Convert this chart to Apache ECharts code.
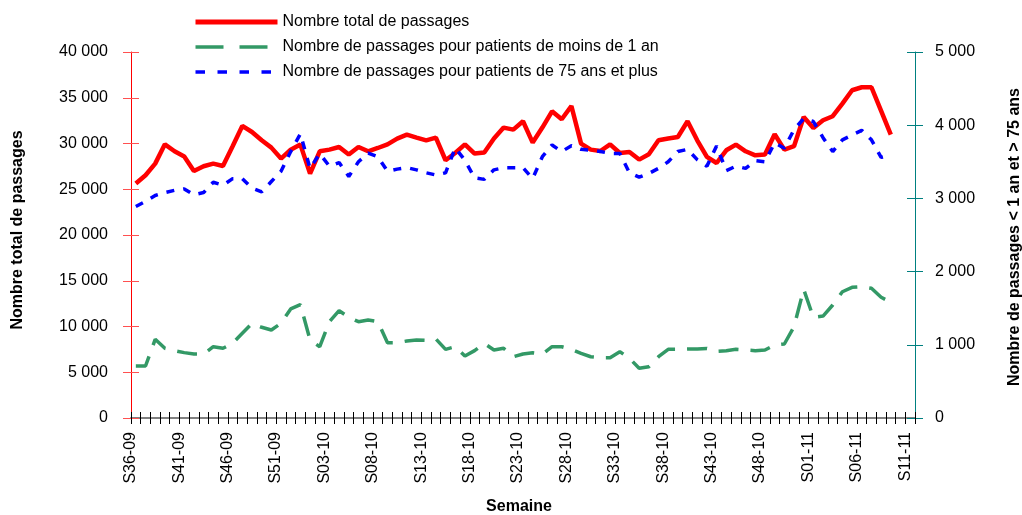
<!DOCTYPE html>
<html>
<head>
<meta charset="utf-8">
<script src="https://cdn.jsdelivr.net/npm/echarts@6/dist/echarts.min.js"></script>
<style>html,body{margin:0;padding:0;background:#fff;overflow:hidden}#c{width:1022px;height:515px}</style>
</head>
<body>
<div id="c"></div>
<script>
const categories = ['S36-09','S37-09','S38-09','S39-09','S40-09','S41-09','S42-09','S43-09','S44-09','S45-09',
'S46-09','S47-09','S48-09','S49-09','S50-09','S51-09','S52-09','S53-09',
'S01-10','S02-10','S03-10','S04-10','S05-10','S06-10','S07-10','S08-10','S09-10','S10-10',
'S11-10','S12-10','S13-10','S14-10','S15-10','S16-10','S17-10','S18-10','S19-10','S20-10',
'S21-10','S22-10','S23-10','S24-10','S25-10','S26-10','S27-10','S28-10','S29-10','S30-10',
'S31-10','S32-10','S33-10','S34-10','S35-10','S36-10','S37-10','S38-10','S39-10','S40-10',
'S41-10','S42-10','S43-10','S44-10','S45-10','S46-10','S47-10','S48-10','S49-10','S50-10',
'S51-10','S52-10','S01-11','S02-11','S03-11','S04-11','S05-11','S06-11','S07-11','S08-11',
'S09-11','S10-11','S11-11'];

const seriesNames = ['Nombre total de passages',
  'Nombre de passages pour patients de moins de 1 an',
  'Nombre de passages pour patients de 75 ans et plus'];

const totalPassages = [25620,26530,27800,29910,29150,28590,27000,27510,27800,27540,
29700,31920,31260,30350,29550,28350,29330,29880,26710,29150,
29330,29620,28790,29620,29150,29510,29910,30540,30970,30650,
30350,30650,28170,28960,29910,28900,29010,30540,31740,31520,
32430,30100,31740,33520,32650,34100,29990,29330,29180,29910,
28960,29070,28240,28820,30350,30540,30710,32430,30350,28530,
27870,29260,29880,29150,28710,28790,31010,29330,29700,32900,
31700,32540,32980,34360,35820,36150,36150,33560,30970,null,null];

const moinsUnAn = [710,710,1075,952,920,893,874,874,974,952,
1020,1157,1294,1239,1202,1294,1490,1550,1065,974,
1316,1466,1375,1316,1339,1316,1029,1029,1052,1065,
1060,1080,938,974,847,920,1020,929,952,837,
874,892,874,974,974,938,883,837,824,824,
906,815,679,701,837,938,938,943,943,950,
911,920,938,929,920,929,997,1011,1248,1758,
1375,1393,1544,1725,1785,1794,1772,1650,1580,null,null];

const plus75 = [2890,2960,3040,3080,3110,3130,3050,3080,3220,3180,
3270,3270,3140,3090,3230,3370,3640,3880,3410,3610,
3440,3490,3300,3500,3620,3570,3370,3400,3420,3390,
3350,3320,3350,3690,3520,3280,3260,3390,3420,3420,
3420,3270,3570,3730,3640,3720,3670,3660,3640,3615,
3615,3350,3290,3340,3410,3500,3640,3670,3530,3440,
3716,3380,3440,3410,3515,3500,3760,3684,3940,4090,
4050,3830,3640,3800,3866,3930,3800,3560,3590,null,null];

const leftAxisTitle = 'Nombre total de passages';
const rightAxisTitle = 'Nombre de passages < 1 an et > 75 ans';
const xAxisTitle = 'Semaine';

const FONT = "'Liberation Sans', Arial, sans-serif";
const TITLE_FONT = "bold 16px 'Liberation Sans', Arial, sans-serif";
const fmt = v => String(Math.round(v)).replace(/\B(?=(\d{3})+(?!\d))/g, ' ');

const chart = echarts.init(document.getElementById('c'), null, {renderer: 'canvas'});
chart.setOption({
  animation: false,
  backgroundColor: '#fff',
  textStyle: {fontFamily: FONT},
  grid: {left: 131, right: 107, top: 52, bottom: 97, containLabel: false, outerBoundsMode: 'none'},
  graphic: [
    {type: 'text', x: 18, y: 230, rotation: Math.PI / 2,
     style: {text: leftAxisTitle, font: TITLE_FONT, fill: '#000', align: 'center', verticalAlign: 'middle'}},
    {type: 'text', x: 1015, y: 237, rotation: Math.PI / 2,
     style: {text: rightAxisTitle, font: TITLE_FONT, fill: '#000', align: 'center', verticalAlign: 'middle'}},
    {type: 'text', x: 519, y: 507,
     style: {text: xAxisTitle, font: TITLE_FONT, fill: '#000', align: 'center', verticalAlign: 'middle'}}
  ],
  legend: {
    orient: 'vertical', left: 193, top: 14, padding: 0,
    itemWidth: 82, itemHeight: 14, itemGap: 9,
    itemStyle: {color: 'rgba(0,0,0,0)', borderWidth: 0, opacity: 0},
    textStyle: {fontSize: 16, color: '#000', fontFamily: FONT, lineHeight: 16},
    data: [
      {name: seriesNames[0], lineStyle: {width: 5, type: 'solid', color: '#ff0000'}},
      {name: seriesNames[1], lineStyle: {width: 3.5, type: [28, 16], color: '#339966'}},
      {name: seriesNames[2], lineStyle: {width: 3.5, type: [9.5, 12.5], color: '#0000ff'}}
    ]
  },
  xAxis: [{
    type: 'category', data: categories, boundaryGap: true, position: 'bottom',
    axisLine: {show: true, lineStyle: {color: '#808080', width: 2}},
    axisTick: {show: true, interval: 0, length: 6, lineStyle: {color: '#000', width: 1}},
    axisLabel: {interval: 4, rotate: 90, fontSize: 16, color: '#000', margin: 14, fontFamily: FONT,
      verticalAlign: 'bottom', lineHeight: 10},
    splitLine: {show: false}
  }, {
    type: 'category', data: categories, boundaryGap: true, position: 'bottom',
    axisLine: {show: false},
    axisTick: {show: true, inside: true, interval: 0, length: 6, lineStyle: {color: '#000', width: 1}},
    axisLabel: {show: false}, splitLine: {show: false}
  }],
  yAxis: [{
    type: 'value', position: 'left', min: 0, max: 40000, interval: 5000,
    axisLine: {show: true, lineStyle: {color: '#ff0000', width: 1}},
    axisTick: {show: true, length: 8, lineStyle: {color: '#ff5050', width: 1}},
    axisLabel: {formatter: fmt, fontSize: 16, color: '#000', margin: 23, fontFamily: FONT},
    splitLine: {show: false}
  }, {
    type: 'value', position: 'right', min: 0, max: 5000, interval: 1000,
    axisLine: {show: true, lineStyle: {color: '#008080', width: 1}},
    axisTick: {show: true, length: 8, lineStyle: {color: '#008080', width: 1}},
    axisLabel: {formatter: fmt, fontSize: 16, color: '#000', margin: 20, fontFamily: FONT},
    splitLine: {show: false}
  }, {
    type: 'value', position: 'left', min: 0, max: 40000, interval: 5000,
    axisLine: {show: false},
    axisTick: {show: true, inside: true, length: 8, lineStyle: {color: '#ff5050', width: 1}},
    axisLabel: {show: false}, splitLine: {show: false}
  }, {
    type: 'value', position: 'right', min: 0, max: 5000, interval: 1000,
    axisLine: {show: false},
    axisTick: {show: true, inside: true, length: 8, lineStyle: {color: '#008080', width: 1}},
    axisLabel: {show: false}, splitLine: {show: false}
  }],
  series: [{
    name: seriesNames[0], type: 'line', data: totalPassages, xAxisIndex: 0, yAxisIndex: 0,
    symbol: 'none', connectNulls: false,
    lineStyle: {color: '#ff0000', width: 4.5}, itemStyle: {color: '#ff0000'}
  }, {
    name: seriesNames[1], type: 'line', data: moinsUnAn, xAxisIndex: 0, yAxisIndex: 1,
    symbol: 'none',
    lineStyle: {color: '#339966', width: 3.5, type: [20, 12]}, itemStyle: {color: '#339966'}
  }, {
    name: seriesNames[2], type: 'line', data: plus75, xAxisIndex: 0, yAxisIndex: 1,
    symbol: 'none',
    lineStyle: {color: '#0000ff', width: 3.5, type: [8, 9]}, itemStyle: {color: '#0000ff'}
  }]
});
</script>
</body>
</html>
